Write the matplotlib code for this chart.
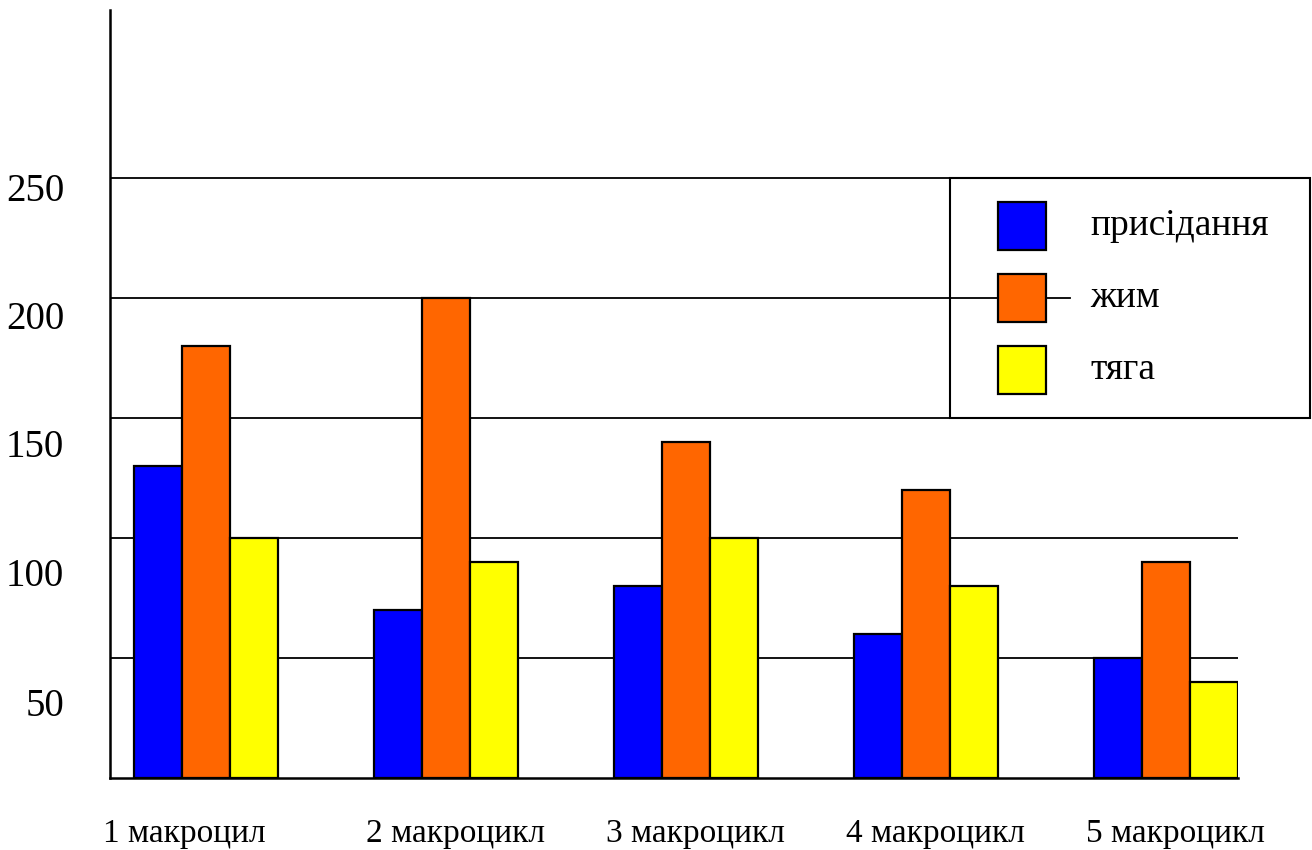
import matplotlib
matplotlib.use("Agg")
import matplotlib.pyplot as plt
from matplotlib.patches import Rectangle
import numpy as np

plt.rcParams['font.family'] = ['Liberation Serif', 'DejaVu Serif']

categories = ["1 макроцил", "2 макроцикл", "3 макроцикл", "4 макроцикл", "5 макроцикл"]
series_names = ["присідання", "жим", "тяга"]
squat = [130, 70, 80, 60, 50]
press = [180, 200, 140, 120, 90]
deadlift = [100, 90, 100, 80, 40]
colors = ["#0000FF", "#FF6600", "#FFFF00"]
gridlines = [50, 100, 150, 200, 250]
ytick_labels = ["50", "100", "150", "200", "250"]

W, H = 1312, 850
fig = plt.figure(figsize=(W / 100, H / 100), dpi=100)
ax = fig.add_axes([110 / W, 72 / H, 1128 / W, 768 / H])

x = np.arange(len(categories))
width = 0.2
for k, vals in enumerate([squat, press, deadlift]):
    ax.bar(x + (k - 1) * width, vals, width, color=colors[k],
           edgecolor="black", linewidth=1.6, zorder=3)

for g in gridlines:
    ax.axhline(g, color="black", linewidth=1.3, zorder=1)

ax.set_xlim(-0.4, 4.3)
ax.set_ylim(0, 320)

# y labels (offset from grid as in reference)
ylab_pos = [31.7, 85.8, 139.6, 192.9, 246.3]
ax.set_yticks(ylab_pos)
ax.set_yticklabels(ytick_labels, fontsize=28)
ax.tick_params(axis="y", length=0, pad=33)

label_offsets = [-0.09, 0.04, 0.04, 0.04, 0.04]
ax.set_xticks(x + np.array(label_offsets))
ax.set_xticklabels(categories, fontsize=24)
ax.tick_params(axis="x", length=0, pad=29)

for s in ["top", "right"]:
    ax.spines[s].set_visible(False)
ax.spines["left"].set_linewidth(1.8)
ax.spines["bottom"].set_linewidth(1.8)

# legend box
def fx(px):
    return px / W

def fy(py):
    return 1 - py / H

fig.patches.append(Rectangle((fx(950), fy(418)), 360 / W, 240 / H,
                             transform=fig.transFigure, facecolor="white",
                             edgecolor="black", linewidth=1.5, zorder=5))
fig.lines.append(plt.Line2D([fx(950), fx(1070)], [fy(298), fy(298)],
                            transform=fig.transFigure, color="black",
                            linewidth=1.3, zorder=6))
tops = [202, 274, 346]
for k, name in enumerate(series_names):
    fig.patches.append(Rectangle((fx(998), fy(tops[k] + 48)), 48 / W, 48 / H,
                                 transform=fig.transFigure, facecolor=colors[k],
                                 edgecolor="black", linewidth=1.6, zorder=7))
    fig.text(fx(1090), fy(tops[k] + 24), name, fontsize=27, va="center",
             ha="left", zorder=8)

fig.savefig("out.png", dpi=100)
